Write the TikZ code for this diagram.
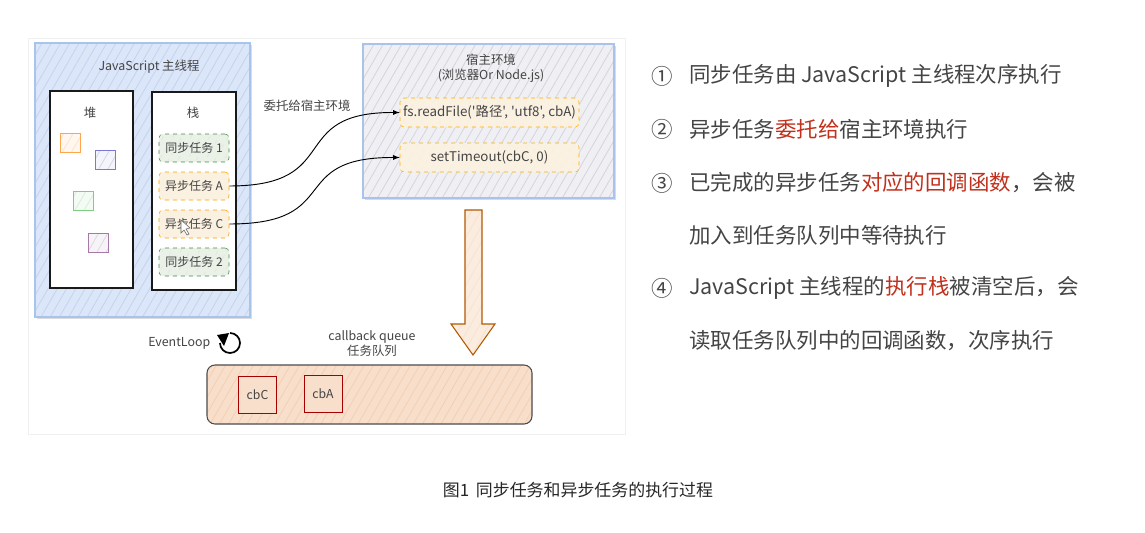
\documentclass[tikz,border=0pt]{standalone}
\usepackage{fontspec}
\setmainfont{Noto Sans CJK SC}
\newfontfamily\codefont{Noto Sans CJK SC}
\usetikzlibrary{patterns.meta}
\definecolor{txtgray}{HTML}{444444}
\definecolor{hotred}{HTML}{C0301C}
\definecolor{bluefill}{HTML}{DBE6F9}
\definecolor{bluehatch}{HTML}{C3D3EF}
\definecolor{blueline}{HTML}{A9C4EB}
\definecolor{hostfill}{HTML}{F0F0F4}
\definecolor{hosthatch}{HTML}{D4D5DA}
\definecolor{greenfill}{HTML}{EAF1E7}
\definecolor{yellowfill}{HTML}{FBF1E0}
\definecolor{orangefill}{HTML}{F8DFCC}
\definecolor{orangehatch}{HTML}{F5CFAF}
\tikzset{
    hatched/.style n args={2}{preaction={fill=#1},pattern={Lines[angle=60,distance=6pt,line width=.6pt]},pattern color=#2},
    softshadow/.style={preaction={fill=black!14,transform canvas={shift={(1.2pt,-1.2pt)}}}},
    sizebox/.style n args={2}{minimum width=#1*.75pt,minimum height=#2*.75pt,inner sep=0pt},
    stackbox/.style={draw=black!90,line width=.9pt,fill=white},
    greentask/.style={draw=black!40!green!45!gray,dashed,rounded corners=3pt,hatched={greenfill}{black!10},sizebox={70}{28},text=txtgray,font=\fontsize{9}{10}\selectfont},
    yellowtask/.style={draw=orange!75!yellow,dashed,rounded corners=3pt,fill=yellowfill,sizebox={70}{28},text=txtgray,font=\fontsize{9}{10}\selectfont},
    hosttask/.style={draw=orange!65!yellow,dashed,rounded corners=3pt,hatched={yellowfill}{black!6},sizebox={179}{29},text=txtgray,font=\codefont\fontsize{10}{11}\selectfont},
    smallbox/.style={draw=#1!70,line width=.7pt,sizebox={20}{19},hatched={#1!6}{#1!22}},
    cbbox/.style={draw=red!65!black,line width=.6pt,sizebox={38}{37},fill=orangefill,text=txtgray,font=\fontsize{9.2}{10}\selectfont},
    label/.style={text=txtgray,font=\fontsize{9.3}{11.2}\selectfont,align=center},
    item/.style={anchor=west,inner sep=0pt,text=txtgray,font=\fontsize{16.1}{18}\selectfont},
    curvearrow/.style={-latex,line width=.7pt,black},
}
\begin{document}
\begin{tikzpicture}[x=.75pt,y=-.75pt]
    \useasboundingbox (0,0) rectangle (1145,532);
    % picture panel
    \draw[black!6,fill=white] (28,38) rectangle (625,434);
    % main thread
    \node[draw=blueline,line width=.8pt,softshadow,hatched={bluefill}{bluehatch},sizebox={215}{274}] (mainbox) at (142.5,180) {};
    \node[label] (maintitle) at (149,67) {JavaScript 主线程};
    \node[stackbox,sizebox={83}{197}] (heapbox) at (91.5,189.5) {};
    \node[stackbox,sizebox={84}{198}] (stackbox) at (194,191) {};
    \node[label] (heaptitle) at (90,113) {堆};
    \node[label] (stacktitle) at (193,113) {栈};
    \node[smallbox=orange] (heapa) at (70.5,143) {};
    \node[smallbox=blue!50!gray] (heapb) at (105,160) {};
    \node[smallbox=green!45!gray] (heapc) at (83,200.5) {};
    \node[smallbox=violet!50!gray] (heapd) at (98,242.5) {};
    \node[greentask] (syncone) at (194,148) {同步任务 1};
    \node[yellowtask] (asynca) at (194,186) {异步任务 A};
    \node[yellowtask] (asyncc) at (194,224) {异步任务 C};
    \node[greentask] (synctwo) at (194,262) {同步任务 2};
    % mouse pointer
    \draw[black!60,fill=white,line width=.4pt] (181,220) -- (181,233) -- (184,230) -- (187,235) -- (189,234) -- (186,229) -- (190,228) -- cycle;
    % host environment
    \node[draw=blueline,line width=.8pt,softshadow,hatched={hostfill}{hosthatch},sizebox={251}{154}] (hostbox) at (488.5,121) {};
    \node[label] (hosttitle) at (491,68.5) {宿主环境\\(浏览器Or Node.js)};
    \node[hosttask] (readfile) at (489.5,112.5) {fs.readFile('路径', 'utf8', cbA)};
    \node[hosttask] (settimeout) at (489.5,157.5) {setTimeout(cbC, 0)};
    \node[label] (delegate) at (307,106) {委托给宿主环境};
    \draw[curvearrow] (asynca.east) .. controls (345,186) and (285,112) .. (readfile.west);
    \draw[curvearrow] (asyncc.east) .. controls (345,224) and (285,157) .. (settimeout.west);
    % big arrow down
    \draw[draw=orange!70!black,line width=.8pt,hatched={orangefill!60!white}{orangehatch!60!white}] (465,210) -- (482,210) -- (482,324) -- (495,324) -- (473,355) -- (451,324) -- (465,324) -- cycle;
    % event loop
    \node[label,anchor=west,inner sep=0pt] (looptext) at (148,343) {EventLoop};
    \draw[line width=1.3pt,black] (230,333) arc[start angle=90,end angle=-180,radius=7.5pt];
    \fill[black] (217,335) -- (229,333) -- (224,346) -- cycle;
    % callback queue
    \node[label] (queuetitle) at (372,343.5) {callback queue\\任务队列};
    \node[draw=black!70,line width=.8pt,rounded corners=6pt,hatched={orangefill}{orangehatch},sizebox={325}{59}] (queuebox) at (369.5,394.5) {};
    \node[cbbox] (cbc) at (257.5,394.5) {cbC};
    \node[cbbox] (cba) at (323,394) {cbA};
    % text on the right
    \node[item,anchor=center] (numone) at (662,76) {①};
    \node[item] (lineone) at (689,76) {同步任务由 JavaScript 主线程次序执行};
    \node[item,anchor=center] (numtwo) at (662,129) {②};
    \node[item] (linetwo) at (689,129) {异步任务\textcolor{hotred}{委托给}宿主环境执行};
    \node[item,anchor=center] (numthree) at (662,183) {③};
    \node[item] (linethree) at (689,183) {已完成的异步任务\textcolor{hotred}{对应的回调函数}，会被};
    \node[item] (linefour) at (689,235) {加入到任务队列中等待执行};
    \node[item,anchor=center] (numfour) at (662,288) {④};
    \node[item] (linefive) at (689,288) {JavaScript 主线程的\textcolor{hotred}{执行栈}被清空后，会};
    \node[item] (linesix) at (689,341) {读取任务队列中的回调函数，次序执行};
    \node[text=black!85,font=\fontsize{12.7}{14}\selectfont] (caption) at (578,490) {图1\, 同步任务和异步任务的执行过程};
\end{tikzpicture}
\end{document}
